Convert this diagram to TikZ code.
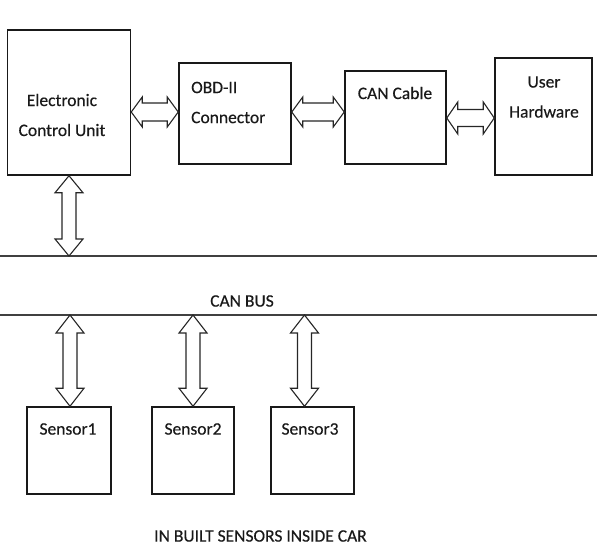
\documentclass[tikz,border=0pt]{standalone}
\usepackage{fontspec}
\setmainfont{Carlito}[FakeBold=0.4]
\usetikzlibrary{calc}
\newcommand\harr[5]{%
\draw[arr] let \p1=#1, \p2=#2 in (\x1,\y1) -- (\x1+#5,\y1+#3) -- (\x1+#5,\y1+#4) -- (\x2-#5,\y2+#4) -- (\x2-#5,\y2+#3) -- (\x2,\y2) -- (\x2-#5,\y2-#3) -- (\x2-#5,\y2-#4) -- (\x1+#5,\y1-#4) -- (\x1+#5,\y1-#3) -- cycle;}
\newcommand\varr[5]{%
\draw[arr] let \p1=#1, \p2=#2 in (\x1,\y1) -- (\x1+#3,\y1-#5) -- (\x1+#4,\y1-#5) -- (\x2+#4,\y2+#5) -- (\x2+#3,\y2+#5) -- (\x2,\y2) -- (\x2-#3,\y2+#5) -- (\x2-#4,\y2+#5) -- (\x1-#4,\y1-#5) -- (\x1-#3,\y1-#5) -- cycle;}
\begin{document}
\begin{tikzpicture}[x=1pt,y=-1pt,
  box/.style={draw=black!90, line width=1.5pt, inner sep=0pt},
  txt/.style={inner sep=0pt, text=black!90, font=\fontsize{17.5}{30}\selectfont},
  arr/.style={draw=black!85, line width=1.1pt, line join=miter, fill=white},
  bus/.style={draw=black!75, line width=1.7pt}]
\useasboundingbox (0,0) rectangle (607,546);
% boxes
\node[box, minimum width=123, minimum height=145] (ecu) at (69,102.5) {};
\node[box, minimum width=112, minimum height=101] (obd) at (235,113.5) {};
\node[box, minimum width=101, minimum height=93] (can) at (395.5,117.5) {};
\node[box, minimum width=97, minimum height=117] (uh) at (543.5,116.5) {};
\node[box, minimum width=84, minimum height=87] (s1) at (69,450.5) {};
\node[box, minimum width=82, minimum height=87] (s2) at (193,450.5) {};
\node[box, minimum width=83, minimum height=87] (s3) at (312.5,450.5) {};
% texts
\node[txt, align=center] (tecu) at (62,115) {Electronic\\Control Unit};
\node[txt, align=left, anchor=west] (tobd) at (191,102.5) {OBD-II\\Connector};
\node[txt] (tcan) at (395,93) {CAN Cable};
\node[txt, align=center] (tuh) at (544,97) {User\\Hardware};
\node[txt] (ts1) at (68,429) {Sensor1};
\node[txt] (ts2) at (193,429) {Sensor2};
\node[txt] (ts3) at (310,429) {Sensor3};
\node[txt] (tbus) at (242,301) {CAN BUS};
\node[txt] (tcar) at (260.5,536) {IN BUILT SENSORS INSIDE CAR};
% bus lines
\coordinate (busT) at (0,256);
\coordinate (busTe) at (597,256);
\coordinate (busB) at (0,315);
\coordinate (busBe) at (597,315);
\draw[bus] (busT) -- (busTe);
\draw[bus] (busB) -- (busBe);
% horizontal arrows
\harr{(ecu.east |- 0,112)}{(obd.west |- 0,112)}{15pt}{9pt}{11pt}
\harr{(obd.east |- 0,112)}{(can.west |- 0,112)}{15pt}{9pt}{11pt}
\harr{(can.east |- 0,118)}{(uh.west |- 0,118)}{16pt}{8.5pt}{11pt}
% vertical arrows
\varr{(ecu.south)}{(ecu.south |- busT)}{14pt}{7pt}{17pt}
\coordinate (a1) at ($(s1.north)+(1,0)$);
\coordinate (a3) at ($(s3.north)+(-8,0)$);
\varr{(a1 |- busB)}{(a1)}{14pt}{7pt}{18pt}
\varr{(s2.north |- busB)}{(s2.north)}{14pt}{7pt}{18pt}
\varr{(a3 |- busB)}{(a3)}{14pt}{7pt}{18pt}
\end{tikzpicture}
\end{document}
